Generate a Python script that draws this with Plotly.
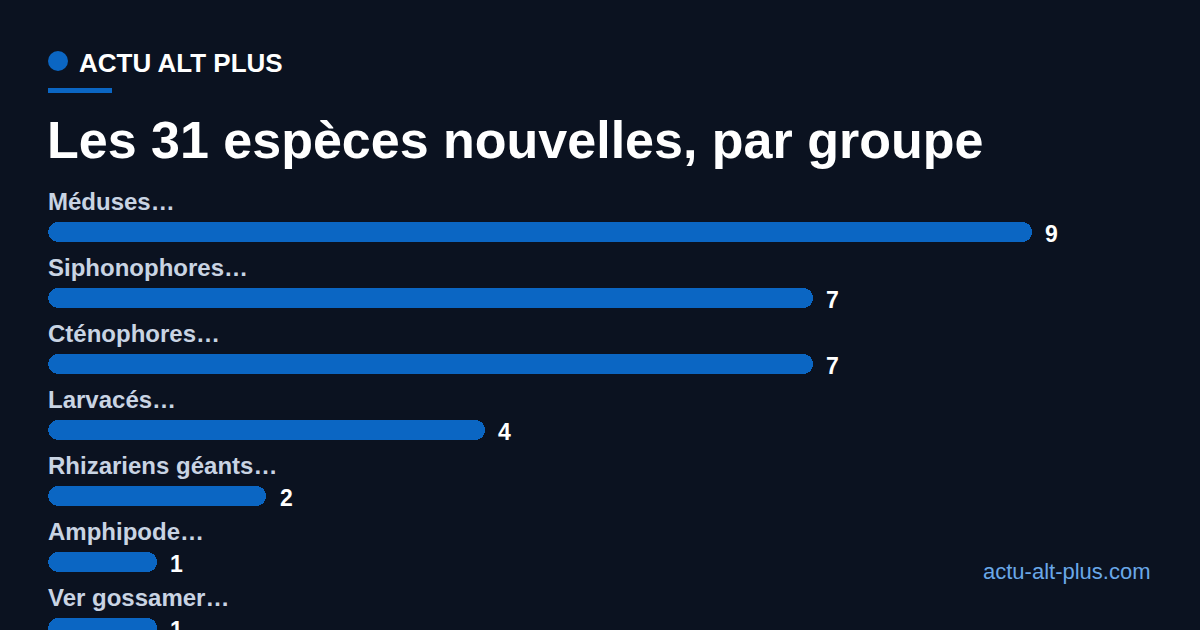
import plotly.graph_objects as go

# data
groupes = ["Méduses…", "Siphonophores…", "Cténophores…", "Larvacés…",
           "Rhizariens géants…", "Amphipode…", "Ver gossamer…"]
nb_especes = [9, 7, 7, 4, 2, 1, 1]

titre = "Les 31 espèces nouvelles, par groupe"
marque = "ACTU ALT PLUS"
site = "actu-alt-plus.com"

W, H = 1200, 630
BG = "#0b1220"
BLEU = "#0b66c3"
FONT = "Liberation Sans, Arial, sans-serif"
UNIT = 109.3          # pixels per species
X0, X1 = -0.2, 10.3   # x range, 0 falls on pixel 48


def px(x):
    return x / W


def py(y):
    return 1 - y / H


fig = go.Figure()
# each bar is two overlapping halves: one rounded on the right, one on the left
fig.add_trace(go.Bar(
    x=[v * 0.6 for v in nb_especes], y=groupes, base=[v * 0.4 for v in nb_especes],
    orientation="h",
    marker=dict(color=BLEU, line=dict(width=0), cornerradius=10),
    width=0.303, hoverinfo="skip",
))
fig.add_trace(go.Bar(
    x=[-v * 0.6 for v in nb_especes], y=groupes, base=[v * 0.6 for v in nb_especes],
    orientation="h",
    marker=dict(color=BLEU, line=dict(width=0), cornerradius=10),
    width=0.303, hoverinfo="skip",
))

# labels above the bars and values at the end
for g, v in zip(groupes, nb_especes):
    fig.add_annotation(x=0, y=g, xref="x", yref="y", text=g, showarrow=False,
                       xanchor="left", yanchor="middle", yshift=31, xshift=-2,
                       font=dict(family=FONT, size=24, color="#c9d4e3", weight="bold"))
    fig.add_annotation(x=v, y=g, xref="x", yref="y", text=str(v), showarrow=False,
                       xanchor="left", yanchor="middle", xshift=11, yshift=-2,
                       font=dict(family=FONT, size=23, color="#ffffff", weight="bold"))

# header
fig.add_shape(type="circle", xref="paper", yref="paper",
              x0=px(48), x1=px(68), y0=py(51), y1=py(71),
              fillcolor=BLEU, line=dict(width=0))
fig.add_shape(type="rect", xref="paper", yref="paper",
              x0=px(48), x1=px(112), y0=py(88), y1=py(93),
              fillcolor=BLEU, line=dict(width=0))
fig.add_annotation(x=px(77), y=py(63), xref="paper", yref="paper", text=marque,
                   showarrow=False, xanchor="left", yanchor="middle",
                   font=dict(family=FONT, size=26, color="#ffffff", weight="bold"))
fig.add_annotation(x=px(45), y=py(140), xref="paper", yref="paper", text=titre,
                   showarrow=False, xanchor="left", yanchor="middle",
                   font=dict(family=FONT, size=52, color="#ffffff", weight="bold"))
fig.add_annotation(x=px(1153), y=py(571), xref="paper", yref="paper", text=site,
                   showarrow=False, xanchor="right", yanchor="middle",
                   font=dict(family=FONT, size=22, color="#6aa8e8"))

fig.update_layout(
    width=W, height=H,
    margin=dict(l=0, r=0, t=0, b=0),
    paper_bgcolor=BG, plot_bgcolor=BG,
    showlegend=False,
    barmode="overlay",
    bargap=0,
    xaxis=dict(domain=[px(48 + X0 * UNIT), px(48 + X1 * UNIT)], range=[X0, X1],
               visible=False, fixedrange=True),
    yaxis=dict(domain=[0, 1], range=[(H - 232) / 66, -232 / 66],
               visible=False, fixedrange=True),
)

fig.write_html("out.html", config={"displayModeBar": False},
               post_script="document.body.style.margin='0';")
